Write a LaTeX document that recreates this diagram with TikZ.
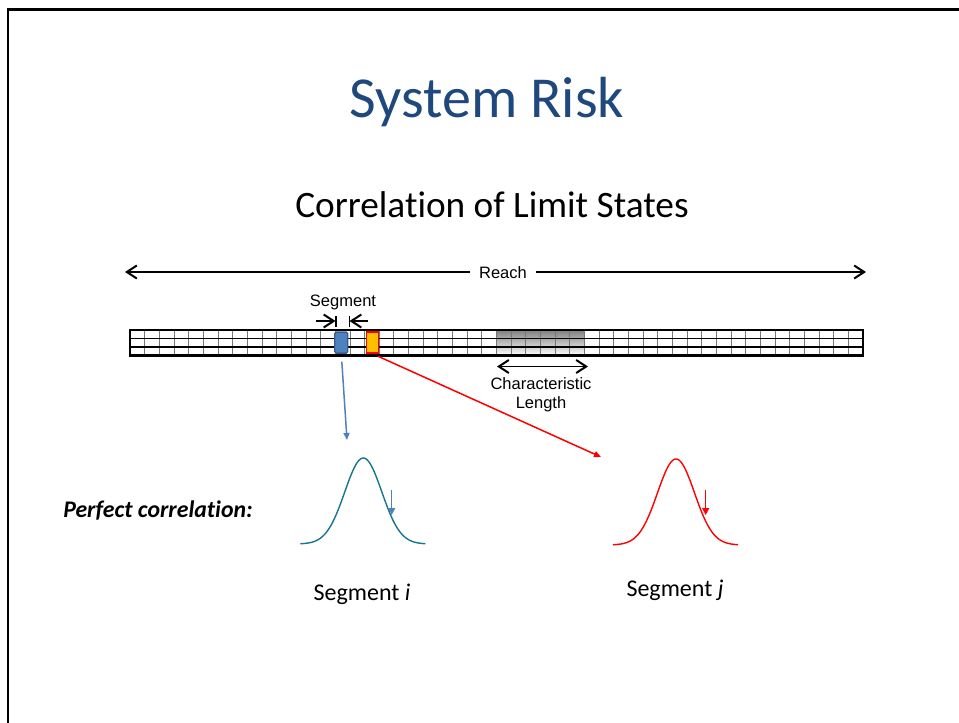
\documentclass[tikz,border=0pt]{standalone}
\usepackage{fontspec}
\setmainfont{Carlito}[Ligatures=NoCommon]
\newfontfamily\arialf{Liberation Sans}
\usetikzlibrary{arrows.meta}
\definecolor{titleblue}{RGB}{31,73,125}
\definecolor{segblue}{RGB}{79,129,189}
\definecolor{segblueD}{RGB}{56,93,138}
\definecolor{curveteal}{RGB}{23,117,140}
\definecolor{amber}{RGB}{255,192,0}
\definecolor{shade}{RGB}{160,160,160}
\definecolor{cellgray}{RGB}{120,120,120}
\tikzset{
  arialtext/.style={font=\arialf\fontsize{16.5}{19}\selectfont, inner sep=0pt},
  barb/.style={line width=1.2, -{Straight Barb[length=10,width=13,line width=2]}},
  dblbarb/.style={line width=1.2, {Straight Barb[length=10,width=13,line width=2]}-{Straight Barb[length=10,width=13,line width=2]}},
  cellline/.style={cellgray, line width=0.8},
  rowline/.style={black, line width=1.6},
  blueconn/.style={segblue, line width=1.5, -{Triangle[length=7,width=6]}},
  redconn/.style={red, line width=1.5, -{Triangle[length=7,width=6]}},
  bell/.style={line width=1.4},
  smallarrow/.style={line width=1.4, -{Triangle[length=7,width=7]}},
}
\begin{document}
\begin{tikzpicture}[x=1pt,y=-1pt]
\useasboundingbox (0,0) rectangle (959,723);
% frame
\draw[line width=2.7, line join=miter] (8,730) -- (8,9.7) -- (965,9.7);
% titles
\node[font=\fontsize{58}{60}\selectfont, text=titleblue] (title) at (487,102) {System Risk};
\node[font=\fontsize{37.3}{42}\selectfont] (subtitle) at (492,205) {Correlation of Limit States};
% reach
\coordinate (rl) at (125,272);
\coordinate (rr) at (866,272);
\node[arialtext, inner xsep=9pt] (reach) at (503,273) {Reach};
\draw[barb] (reach.west |- rl) -- (rl);
\draw[barb] (reach.east |- rr) -- (rr);
% segment label and arrows
\node[arialtext] (seglbl) at (343,302) {Segment};
\coordinate (sa1) at (316,321);
\coordinate (sa2) at (335.5,321);
\coordinate (sb1) at (368,321);
\coordinate (sb2) at (349.5,321);
\draw[barb] (sa1) -- (sa2);
\draw[barb] (sb1) -- (sb2);
\draw[line width=1.4] (335.8,316) -- (335.8,326.5);
\draw[line width=1.4] (349.2,316) -- (349.2,326.5);
% bar
\fill[shade] (496.5,330) rectangle (584.5,355.5);
\foreach \k in {1,...,49} \draw[cellline] ({130+\k*14.66},330) -- ({130+\k*14.66},355.5);
\draw[rowline] (130,338.5) -- (863,338.5);
\draw[rowline] (130,347) -- (863,347);
\draw[line width=2.2] (130,330) rectangle (863,355.5);
% segments
\node[draw=segblueD, fill=segblue, line width=1.3, rounded corners=1.5, minimum width=13, minimum height=21, inner sep=0] (segi) at (341.3,342.6) {};
\node[draw=red, fill=amber, line width=1.8, minimum width=12, minimum height=20.5, inner sep=0] (segj) at (372.5,342.6) {};
% characteristic length
\draw[dblbarb] (497,366.5) -- (588,366.5);
\node[arialtext, align=center] (charlen) at (541,394.5) {Characteristic\\Length};
% connectors
\coordinate (ci) at (347,440);
\coordinate (cj) at (601,457);
\draw[blueconn, shorten <=8pt] (segi.south) -- (ci);
\draw[redconn, shorten <=6pt] (segj.south) -- (cj);
% bell curves
\draw[bell, curveteal] plot[domain=-63:62, samples=100, smooth] ({363.3+\x}, {544-86*exp(-((\x/18.5)^2)/2)});
\draw[bell, red] plot[domain=-63:62, samples=100, smooth] ({676+\x}, {545-86*exp(-((\x/18.5)^2)/2)});
\coordinate (ai1) at (391.7,490);
\coordinate (ai2) at (391.7,515);
\coordinate (aj1) at (705.7,490);
\coordinate (aj2) at (705.7,515);
\draw[smallarrow, segblue] (ai1) -- (ai2);
\draw[smallarrow, red] (aj1) -- (aj2);
% labels
\node[font=\fontsize{23.8}{28}\selectfont\bfseries\itshape] (perfect) at (158,511) {Perfect correlation:};
\node[font=\fontsize{24}{28}\selectfont] (labi) at (362,594) {Segment \textit{i}};
\node[font=\fontsize{24}{28}\selectfont] (labj) at (675,590) {Segment \textit{j}};
\end{tikzpicture}
\end{document}
